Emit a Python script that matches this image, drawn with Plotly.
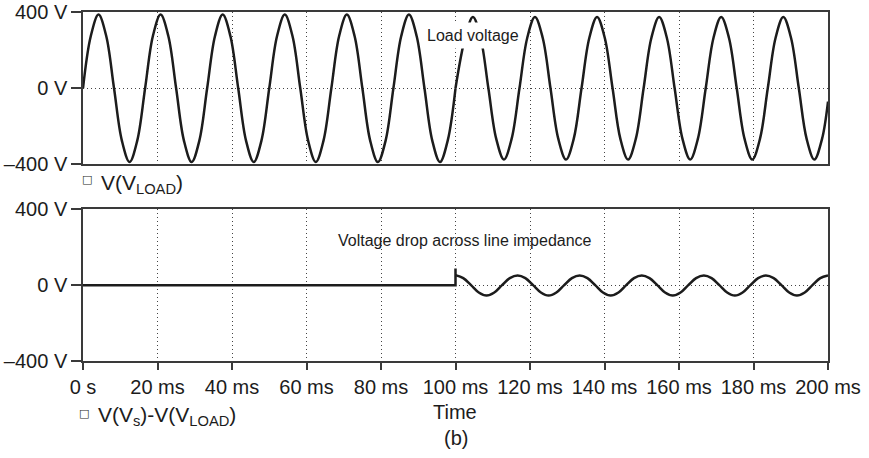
import plotly.graph_objects as go

# ---------------- data ----------------
# Load voltage, before the line impedance is inserted (0..100 ms), 60 Hz
t_load_a = [0, 2.08, 4.17, 6.25, 8.33, 10.42, 12.5, 14.58, 16.67, 18.75, 20.83, 22.92,
            25, 27.08, 29.17, 31.25, 33.33, 35.42, 37.5, 39.58, 41.67, 43.75, 45.83, 47.92,
            50, 52.08, 54.17, 56.25, 58.33, 60.42, 62.5, 64.58, 66.67, 68.75, 70.83, 72.92,
            75, 77.08, 79.17, 81.25, 83.33, 85.42, 87.5, 89.58, 91.67, 93.75, 95.83, 97.92,
            100]
v_load_a = [0, 274, 388, 274, 0, -274, -388, -274,
            0, 274, 388, 274, 0, -274, -388, -274,
            0, 274, 388, 274, 0, -274, -388, -274,
            0, 274, 388, 274, 0, -274, -388, -274,
            0, 274, 388, 274, 0, -274, -388, -274,
            0, 274, 388, 274, 0, -274, -388, -274,
            0]
# Load voltage after 100 ms (slightly lower and lagging)
t_load_b = [100, 102.58, 104.67, 106.75, 108.83, 110.92, 113.0, 115.08, 117.17, 119.25,
            121.33, 123.42, 125.5, 127.58, 129.67, 131.75, 133.83, 135.92, 138.0, 140.08,
            142.17, 144.25, 146.33, 148.42, 150.5, 152.58, 154.67, 156.75, 158.83, 160.92,
            163.0, 165.08, 167.17, 169.25, 171.33, 173.42, 175.5, 177.58, 179.67, 181.75,
            183.83, 185.92, 188.0, 190.08, 192.17, 194.25, 196.33, 198.42, 200]
v_load_b = [0, 265, 375, 265, 0, -265, -375, -265,
            0, 265, 375, 265, 0, -265, -375, -265,
            0, 265, 375, 265, 0, -265, -375, -265,
            0, 265, 375, 265, 0, -265, -375, -265,
            0, 265, 375, 265, 0, -265, -375, -265,
            0, 265, 375, 265, 0, -265, -375, -265,
            -70]

# Voltage drop across line impedance: zero, then a step at 100 ms
t_drop_a = [0, 100, 100, 100]
v_drop_a = [0, 0, 88, 53]
t_drop_b = [100, 102.08, 104.17, 106.25, 108.33, 110.42, 112.5, 114.58, 116.67, 118.75,
            120.83, 122.92, 125, 127.08, 129.17, 131.25, 133.33, 135.42, 137.5, 139.58,
            141.67, 143.75, 145.83, 147.92, 150, 152.08, 154.17, 156.25, 158.33, 160.42,
            162.5, 164.58, 166.67, 168.75, 170.83, 172.92, 175, 177.08, 179.17, 181.25,
            183.33, 185.42, 187.5, 189.58, 191.67, 193.75, 195.83, 197.92, 200]
v_drop_b = [53, 37, 0, -39, -55, -39, 0, 37,
            51, 37, 0, -39, -55, -39, 0, 37,
            51, 37, 0, -39, -55, -39, 0, 37,
            51, 37, 0, -39, -55, -39, 0, 37,
            51, 37, 0, -39, -55, -39, 0, 37,
            51, 37, 0, -39, -55, -39, 0, 37,
            51]

x_tickvals = [0, 20, 40, 60, 80, 100, 120, 140, 160, 180, 200]
x_ticktext = ["0 s", "20 ms", "40 ms", "60 ms", "80 ms", "100 ms", "120 ms",
              "140 ms", "160 ms", "180 ms", "200 ms"]
y_tickvals = [-400, 0, 400]
y_ticktext = ["\u2013400 V", "0 V", "400 V"]

# ---------------- figure ----------------
W, H = 869, 458
FONT = "Liberation Sans, Arial, Helvetica, sans-serif"
INK = "#1c1c1c"
AXC = "#3a3a3a"
GRIDC = "#444444"

def px(x):
    return x / W

def py(y):
    return 1 - y / H

line_style = dict(color=INK, width=2.5)

fig = go.Figure()
fig.add_trace(go.Scatter(x=t_load_a, y=v_load_a, mode="lines", line=dict(shape="spline", smoothing=1, **line_style),
                         xaxis="x", yaxis="y", showlegend=False, hoverinfo="skip"))
fig.add_trace(go.Scatter(x=t_load_b, y=v_load_b, mode="lines", line=dict(shape="spline", smoothing=1, **line_style),
                         xaxis="x", yaxis="y", showlegend=False, hoverinfo="skip"))
fig.add_trace(go.Scatter(x=t_drop_a, y=v_drop_a, mode="lines", line=dict(shape="linear", **line_style),
                         xaxis="x2", yaxis="y2", showlegend=False, hoverinfo="skip"))
fig.add_trace(go.Scatter(x=t_drop_b, y=v_drop_b, mode="lines", line=dict(shape="spline", smoothing=1, **line_style),
                         xaxis="x2", yaxis="y2", showlegend=False, hoverinfo="skip"))

xdom = [px(83), px(828)]
common_x = dict(range=[0, 200], domain=xdom, tickvals=x_tickvals, showgrid=True,
                gridcolor=GRIDC, griddash="1px,3px", gridwidth=1, zeroline=False,
                showline=True, linecolor=AXC, linewidth=1.5, mirror=True, automargin=False)
common_y = dict(range=[-400, 400], tickvals=y_tickvals, ticktext=y_ticktext,
                showgrid=True, gridcolor=GRIDC, griddash="1px,3px", gridwidth=1, zeroline=False,
                showline=True, linecolor=AXC, linewidth=1.5, mirror=True, automargin=False,
                ticks="outside", ticklen=10, tickwidth=1.5, tickcolor=AXC,
                tickfont=dict(family=FONT, size=20, color=INK))

fig.update_layout(
    width=W, height=H,
    margin=dict(l=0, r=0, t=0, b=0, autoexpand=False),
    paper_bgcolor="white", plot_bgcolor="white",
    xaxis=dict(anchor="y", showticklabels=False, ticks="", **common_x),
    yaxis=dict(anchor="x", domain=[py(164.3), py(12.3)], **common_y),
    xaxis2=dict(anchor="y2", ticktext=x_ticktext, ticks="outside", ticklen=7, tickwidth=1.5,
                tickcolor=AXC, tickfont=dict(family=FONT, size=20, color=INK), **common_x),
    yaxis2=dict(anchor="x2", domain=[py(361), py(209.3)], **common_y),
)

ann = []
ann.append(dict(text="Load voltage", x=px(472.5), y=py(35), xref="paper", yref="paper",
                showarrow=False, font=dict(family=FONT, size=16, color=INK),
                bgcolor="white", borderpad=4, xanchor="center", yanchor="middle"))
ann.append(dict(text="Voltage drop across line impedance", x=px(464.7), y=py(240),
                xref="paper", yref="paper", showarrow=False,
                font=dict(family=FONT, size=16, color=INK), xanchor="center", yanchor="middle"))
ann.append(dict(text="\u25a1", x=px(87.3), y=py(179), xref="paper", yref="paper", showarrow=False,
                font=dict(family="DejaVu Sans", size=11, color=INK), xanchor="center", yanchor="middle"))
ann.append(dict(text="V(V<sub>LOAD</sub>)", x=px(99), y=py(184), xref="paper", yref="paper",
                showarrow=False, font=dict(family=FONT, size=21, color=INK),
                xanchor="left", yanchor="middle"))
ann.append(dict(text="\u25a1", x=px(84), y=py(413), xref="paper", yref="paper", showarrow=False,
                font=dict(family="DejaVu Sans", size=11, color=INK), xanchor="center", yanchor="middle"))
ann.append(dict(text="V(V<sub>s</sub>)-V(V<sub>LOAD</sub>)", x=px(96), y=py(416), xref="paper",
                yref="paper", showarrow=False, font=dict(family=FONT, size=21, color=INK),
                xanchor="left", yanchor="middle"))
ann.append(dict(text="Time", x=px(455), y=py(411.7), xref="paper", yref="paper", showarrow=False,
                font=dict(family=FONT, size=20, color=INK), xanchor="center", yanchor="middle"))
ann.append(dict(text="(b)", x=px(455.5), y=py(438), xref="paper", yref="paper", showarrow=False,
                font=dict(family=FONT, size=20, color=INK), xanchor="center", yanchor="middle"))
fig.update_layout(annotations=ann)

fig.write_html("out.html", config={"displayModeBar": False},
               post_script="document.body.style.margin='0';document.body.style.padding='0';")
